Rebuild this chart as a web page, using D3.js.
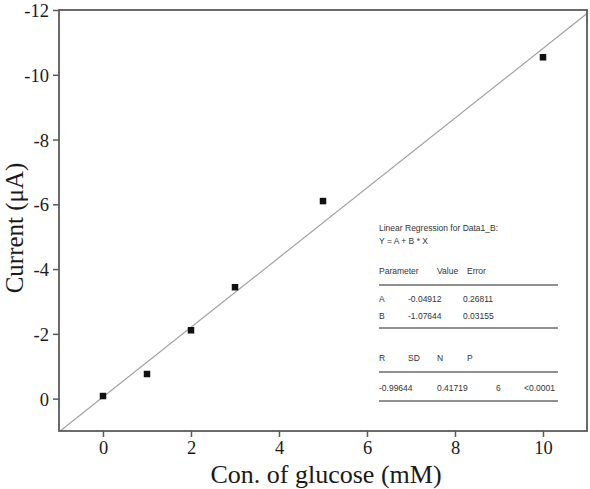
<!DOCTYPE html>
<html>
<head>
<meta charset="utf-8">
<script src="https://cdn.jsdelivr.net/npm/d3@7"></script>
<style>
  html, body { margin: 0; padding: 0; background: #fff; }
  svg { display: block; }
</style>
</head>
<body>
<svg id="chart" width="590" height="489"></svg>
<script>
// ---- data ----
const glucose = [0, 1, 2, 3, 5, 10];
const current = [-0.08, -0.76, -2.11, -3.44, -6.10, -10.54];
const xTicks = [0, 2, 4, 6, 8, 10];
const yTicks = [0, -2, -4, -6, -8, -10, -12];
const fitA = -0.04912;
const fitB = -1.07644;
const fitTitle = ["Linear Regression for Data1_B:", "Y = A + B * X"];
const paramHeader = ["Parameter", "Value", "Error"];
const paramRows = [["A", "-0.04912", "0.26811"], ["B", "-1.07644", "0.03155"]];
const statHeader = ["R", "SD", "N", "P"];
const statRow = ["-0.99644", "0.41719", "6", "<0.0001"];

// ---- layout ----
const svg = d3.select("#chart");
const L = 59, R = 587, T = 10, B = 431;
const x = d3.scaleLinear().domain([-1, 11]).range([L, R]);
const y = d3.scaleLinear().domain([1, -12]).range([B, T]);
const frameColor = "#5a5a5a";
const serif = "'Liberation Serif', 'Times New Roman', serif";

// fit line (clipped to plot area)
svg.append("clipPath").attr("id", "clip")
  .append("rect").attr("x", L).attr("y", T).attr("width", R - L).attr("height", B - T);
const lineX = x.domain();
svg.append("line")
  .attr("clip-path", "url(#clip)")
  .attr("x1", x(lineX[0])).attr("y1", y(fitA + fitB * lineX[0]))
  .attr("x2", x(lineX[1])).attr("y2", y(fitA + fitB * lineX[1]))
  .attr("stroke", "#a0a0a0").attr("stroke-width", 1.2);

// frame
svg.append("rect").attr("x", L).attr("y", T).attr("width", R - L).attr("height", B - T)
  .attr("fill", "none").attr("stroke", frameColor).attr("stroke-width", 1.8);

// axes
const xAxis = svg.append("g").attr("transform", `translate(0,${B})`)
  .call(d3.axisBottom(x).tickValues(xTicks).tickSize(6).tickPadding(4).tickFormat(d3.format("d")));
const yAxis = svg.append("g").attr("transform", `translate(${L},0)`)
  .call(d3.axisLeft(y).tickValues(yTicks).tickSize(6).tickPadding(4).tickFormat(d => d));
[xAxis, yAxis].forEach(g => {
  g.select(".domain").remove();
  g.selectAll(".tick line").attr("stroke", frameColor).attr("stroke-width", 1.5);
  g.selectAll(".tick text").attr("fill", "#1a1a1a")
    .style("font-family", serif)
    .style("font-size", "18.5px");
});
yAxis.selectAll(".tick text").attr("dy", "0.35em");

// axis titles
svg.append("text").attr("x", 326).attr("y", 483)
  .attr("text-anchor", "middle").attr("fill", "#1a1a1a")
  .style("font-family", serif)
  .style("font-size", "26px").text("Con. of glucose (mM)");
svg.append("text")
  .attr("transform", `translate(23,${228}) rotate(-90)`)
  .attr("text-anchor", "middle").attr("fill", "#1a1a1a")
  .style("font-family", serif)
  .style("font-size", "25px").text("Current (\u03bcA)");

// points
svg.append("g").selectAll("rect")
  .data(glucose.map((g, i) => [g, current[i]]))
  .join("rect")
  .attr("x", d => x(d[0]) - 3.25).attr("y", d => y(d[1]) - 3.25)
  .attr("width", 6.5).attr("height", 6.5).attr("fill", "#111");

// regression box
const box = svg.append("g")
  .style("font-family", "'Liberation Sans', Arial, sans-serif")
  .style("font-size", "8.5px").attr("fill", "#333");
const bx = 379, bw = 179;
box.append("text").attr("x", bx).attr("y", 231).text(fitTitle[0]);
box.append("text").attr("x", bx).attr("y", 244).text(fitTitle[1]);
const pCols = [379, 437, 467];
const pColsVal = [379, 408, 463];
paramHeader.forEach((t, i) => box.append("text").attr("x", pCols[i]).attr("y", 274).text(t));
[285, 328, 372, 401].forEach(yy => box.append("line")
  .attr("x1", bx).attr("x2", bx + bw).attr("y1", yy).attr("y2", yy)
  .attr("stroke", "#222").attr("stroke-width", 1));
paramRows.forEach((row, r) => row.forEach((t, i) =>
  box.append("text").attr("x", pColsVal[i]).attr("y", 302 + r * 17).text(t)));
const sCols = [379, 408, 437, 467];
statHeader.forEach((t, i) => box.append("text").attr("x", sCols[i]).attr("y", 361).text(t));
const sColsVal = [379, 437, 496, 524];
statRow.forEach((t, i) => box.append("text").attr("x", sColsVal[i]).attr("y", 391).text(t));
</script>
</body>
</html>
